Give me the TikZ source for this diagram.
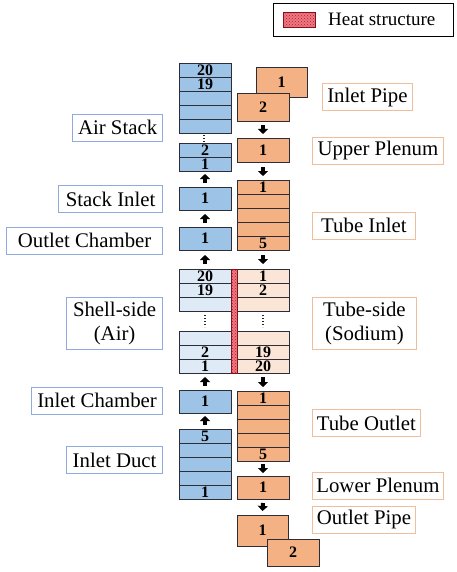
\documentclass[tikz,border=0pt]{standalone}
\usepackage{fontspec}
\setmainfont{Liberation Serif}
\usetikzlibrary{arrows.meta,patterns}

\definecolor{airblue}{RGB}{157,195,230}
\definecolor{airlight}{RGB}{222,235,247}
\definecolor{naorange}{RGB}{244,177,131}
\definecolor{nalight}{RGB}{251,229,214}
\definecolor{lblblue}{RGB}{143,170,220}
\definecolor{lblorange}{RGB}{240,190,155}
\definecolor{celledge}{RGB}{45,45,55}
\definecolor{heatfill}{RGB}{235,120,130}
\definecolor{heatdot}{RGB}{190,25,40}

\tikzset{cell/.style={draw=celledge, line width=0.9pt, minimum width=52pt, minimum height=14pt, inner sep=0pt, outer sep=0pt, text height=10.5pt, text depth=0pt, font=\fontsize{16}{16}\selectfont\bfseries}}
\tikzset{airc/.style={cell, fill=airblue}, airlc/.style={cell, fill=airlight}}
\tikzset{nac/.style={cell, fill=naorange}, nalc/.style={cell, fill=nalight}}
\tikzset{lbl/.style={draw, line width=0.8pt, inner xsep=3pt, inner ysep=3pt, minimum height=27pt, align=center, font=\fontsize{20.8}{24}\selectfont}}
\tikzset{flow/.style={line width=4pt, -{Triangle[width=10pt,length=5pt]}}}
\tikzset{heat/.style={draw=heatdot!70!black, line width=0.5pt, preaction={fill=heatfill}, pattern=crosshatch dots, pattern color=heatdot, inner sep=0pt, outer sep=0pt}}
\tikzset{dotline/.style={black!85, line width=1.3pt, dash pattern=on 1.3pt off 1.7pt}}

\begin{document}
\begin{tikzpicture}[x=1pt, y=-1pt]
    \useasboundingbox (0,0) rectangle (456,572);

    % legend
    \node[draw, line width=0.8pt, minimum width=180pt, minimum height=33pt] (legend) at (363,19.5) {};
    \node[heat, minimum width=32pt, minimum height=15pt] (legsw) at (299,19.5) {};
    \node[anchor=west, inner sep=0pt, font=\fontsize{19}{19}\selectfont] (legtxt) at (328,19.5) {Heat structure};

    % air side (blue)
    \node[airc] (as20) at (205,70) {20};
    \node[airc, anchor=north] (as19) at (as20.south) {19};
    \node[airc, anchor=north] (as18) at (as19.south) {};
    \node[airc, anchor=north] (as17) at (as18.south) {};
    \node[airc, anchor=north] (as16) at (as17.south) {};
    \node[airc] (as2) at (205,150) {2};
    \node[airc, anchor=north] (as1) at (as2.south) {1};
    \draw[dotline] ([xshift=-1pt,yshift=-2pt]as16.south) -- ([xshift=-1pt,yshift=1pt]as2.north);

    \node[airc, minimum height=23pt] (si1) at (205,198.5) {1};
    \node[airc, minimum height=23pt] (oc1) at (205,238.5) {1};

    \node[airlc] (sh20) at (205,276) {20};
    \node[airlc, anchor=north] (sh19) at (sh20.south) {19};
    \node[airlc, anchor=north] (sh18) at (sh19.south) {};
    \node[airlc] (sh3) at (205,338) {};
    \node[airlc, anchor=north] (sh2) at (sh3.south) {2};
    \node[airlc, anchor=north] (sh1) at (sh2.south) {1};
    \draw[dotline] ([yshift=-4pt]sh18.south) -- ([yshift=4pt]sh3.north);

    \node[airc, minimum height=23pt] (ic1) at (205,401.5) {1};

    \node[airc] (id5) at (205,436) {5};
    \node[airc, anchor=north] (id4) at (id5.south) {};
    \node[airc, anchor=north] (id3) at (id4.south) {};
    \node[airc, anchor=north] (id2) at (id3.south) {};
    \node[airc, anchor=north] (id1) at (id2.south) {1};

    % sodium side (orange)
    \node[nac, minimum width=51pt, minimum height=30pt] (ip1) at (281.5,82) {1};
    \node[nac, minimum height=28pt] (ip2) at (263,107) {2};

    \node[nac, minimum height=24pt] (up1) at (263,150) {1};

    \node[nac] (ti1) at (263,187) {1};
    \node[nac, anchor=north] (ti2) at (ti1.south) {};
    \node[nac, anchor=north] (ti3) at (ti2.south) {};
    \node[nac, anchor=north] (ti4) at (ti3.south) {};
    \node[nac, anchor=north] (ti5) at (ti4.south) {5};

    \node[nalc] (ts1) at (263,276) {1};
    \node[nalc, anchor=north] (ts2) at (ts1.south) {2};
    \node[nalc, anchor=north] (ts3) at (ts2.south) {};
    \node[nalc] (ts18) at (263,338) {};
    \node[nalc, anchor=north] (ts19) at (ts18.south) {19};
    \node[nalc, anchor=north] (ts20) at (ts19.south) {20};
    \draw[dotline] ([yshift=-4pt]ts3.south) -- ([yshift=4pt]ts18.north);

    \node[heat, minimum width=6pt, minimum height=104pt, anchor=north] (hs) at (234,269) {};

    \node[nac] (to1) at (263,398) {1};
    \node[nac, anchor=north] (to2) at (to1.south) {};
    \node[nac, anchor=north] (to3) at (to2.south) {};
    \node[nac, anchor=north] (to4) at (to3.south) {};
    \node[nac, anchor=north] (to5) at (to4.south) {5};

    \node[nac, minimum height=23pt] (lp1) at (263,487.5) {1};

    \node[nac, minimum width=51pt, minimum height=31pt] (op1) at (262.5,530.5) {1};
    \node[nac, minimum height=27pt] (op2) at (293,552.5) {2};

    % labels
    \node[lbl, draw=lblblue, anchor=east, minimum width=90pt] (airstack) at (163,127.5) {Air Stack};
    \node[lbl, draw=lblblue, anchor=east, minimum width=104pt] (stackin) at (163,199) {Stack Inlet};
    \node[lbl, draw=lblblue, anchor=east, minimum width=156pt] (outch) at (163,240.5) {Outlet Chamber};
    \node[lbl, draw=lblblue, anchor=east, minimum width=96pt, minimum height=52pt] (shell) at (163,323) {Shell-side\\(Air)};
    \node[lbl, draw=lblblue, anchor=east, minimum width=131pt] (inch) at (163,400.5) {Inlet Chamber};
    \node[lbl, draw=lblblue, anchor=east, minimum width=96pt] (induct) at (163,460) {Inlet Duct};

    \node[lbl, draw=lblorange, anchor=west, minimum width=90pt] (inpipe) at (322,97) {Inlet Pipe};
    \node[lbl, draw=lblorange, anchor=west, minimum width=131pt] (uppl) at (312,150.5) {Upper Plenum};
    \node[lbl, draw=lblorange, anchor=west, minimum width=103pt] (tubein) at (312,225.5) {Tube Inlet};
    \node[lbl, draw=lblorange, anchor=west, minimum width=104pt, minimum height=52pt] (tube) at (312,323) {Tube-side\\(Sodium)};
    \node[lbl, draw=lblorange, anchor=west, minimum width=108pt] (tubeout) at (312,423) {Tube Outlet};
    \node[lbl, draw=lblorange, anchor=west, minimum width=131pt] (lowpl) at (312,485.5) {Lower Plenum};
    \node[lbl, draw=lblorange, anchor=west, minimum width=103pt] (outpipe) at (312,519.5) {Outlet Pipe};

    % air flows up
    \draw[flow] ([yshift=4pt]si1.north) -- ([yshift=-3pt]as1.south);

    \draw[flow] ([yshift=4pt]oc1.north) -- ([yshift=-4pt]si1.south);

    \draw[flow] ([yshift=5pt]sh20.north) -- ([yshift=-5pt]oc1.south);

    \draw[flow] ([yshift=4pt]ic1.north) -- ([yshift=-4pt]sh1.south);

    \draw[flow] ([yshift=4pt]id5.north) -- ([yshift=-3pt]ic1.south);

    % sodium flows down
    \draw[flow] ([yshift=-4pt]ip2.south) -- ([yshift=4pt]up1.north);

    \draw[flow] ([yshift=-5pt]up1.south) -- ([yshift=4pt]ti1.north);

    \draw[flow] ([yshift=-5pt]ti5.south) -- ([yshift=5pt]ts1.north);

    \draw[flow] ([yshift=-4pt]ts20.south) -- ([yshift=4pt]to1.north);

    \draw[flow] ([yshift=-3pt]to5.south) -- ([yshift=3pt]lp1.north);

    \draw[flow] ([yshift=-4pt]lp1.south) -- ([yshift=4pt]op1.north);

\end{tikzpicture}
\end{document}
